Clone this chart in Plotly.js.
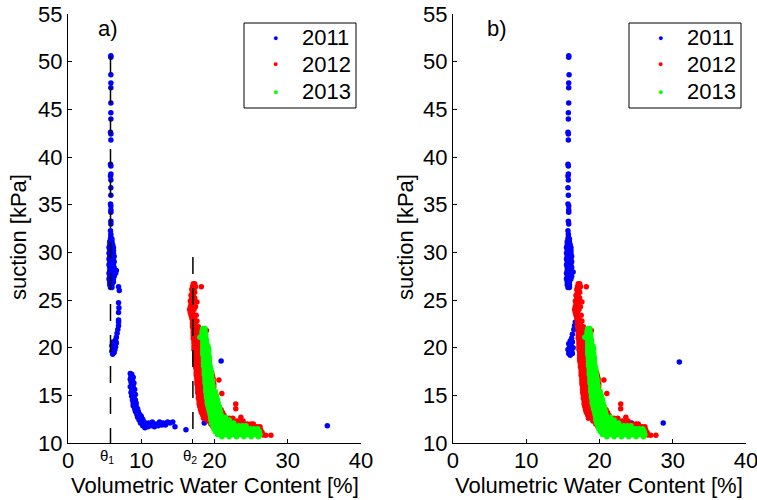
<!DOCTYPE html>
<html>
<head>
<meta charset="utf-8">
<script src="https://cdn.plot.ly/plotly-3.0.1.min.js"></script>
<style>
  html, body { margin: 0; padding: 0; background: #fff; }
  #chart { width: 757px; height: 500px; }
</style>
</head>
<body>
<div id="chart"></div>
<script>
// Suction vs volumetric water content, three seasons of field monitoring.
// Points are [VWC %, suction kPa].

const years = ['2011', '2012', '2013'];
const yearColors = ['rgb(0,0,255)', 'rgb(255,0,0)', 'rgb(0,255,0)'];

// Reference water contents marked on panel a)
const thetaLabels = ['θ<sub>1</sub>', 'θ<sub>2</sub>'];
const thetaValues = [5.8, 17.05];
const thetaTopSuction = [50.6, 29.5];

const xTickVals = [0, 10, 20, 30, 40];
const yTickVals = [10, 15, 20, 25, 30, 35, 40, 45, 50, 55];
const xTitle = 'Volumetric Water Content [%]';
const yTitle = 'suction [kPa]';
const panelLabels = ['a)', 'b)'];

// 2011, panel a) (raw readings)
const pts2011a = [
  [5.85,50.63],[5.85,50.46],[5.85,48.63],[5.85,47.76],[5.85,47.27],[5.85,45.66],[5.85,44.65],[5.85,43.99],
  [5.8,42.59],[5.85,42.41],[5.85,41.78],[5.8,39.24],[5.85,39.06],[5.85,38.22],[5.8,38.01],[5.85,37.59],
  [5.85,36.78],[5.85,35.98],[5.8,35.07],[5.85,34.86],[5.85,34.44],[5.85,34.2],[5.85,33.26],[5.85,32.97],
  [5.8,32.27],[5.85,31.9],[5.85,31.6],
  [5.8,31.4],[6.0,31.4],[5.7,31.1],[6.0,31.1],[5.7,30.8],[6.1,30.8],[5.6,30.5],[5.9,30.5],[6.2,30.5],
  [5.7,30.2],[6.0,30.2],[6.2,30.2],[5.6,29.9],[5.9,29.9],[6.2,29.9],[5.7,29.6],[6.0,29.6],[6.3,29.6],
  [5.6,29.3],[5.9,29.3],[6.2,29.3],[5.7,29.0],[6.0,29.0],[6.3,29.0],[5.6,28.7],[5.9,28.7],[6.2,28.7],
  [5.7,28.4],[6.0,28.4],[6.3,28.4],[5.7,28.1],[6.0,28.1],[6.3,28.1],[6.6,28.1],[5.6,27.8],[5.9,27.8],
  [6.2,27.8],[6.5,27.8],[5.7,27.5],[6.0,27.5],[6.3,27.5],[5.6,27.2],[5.9,27.2],[6.2,27.2],[5.7,26.9],
  [6.0,26.9],[6.2,26.9],[5.7,26.6],[6.0,26.6],[5.8,26.3],[6.0,26.3],
  [6.9,26.4],[7.0,26.0],[6.9,24.7],[6.95,24.2],[6.9,23.7],[6.9,22.9],[6.9,22.7],[6.9,22.3],[6.8,21.9],
  [6.7,21.5],[6.6,21.1],[6.5,20.8],[6.4,20.6],[6.6,20.5],[6.3,20.3],[6.2,20.5],[6.1,20.6],[6.5,20.1],
  [6.0,20.2],[6.2,19.9],[6.4,19.8],[6.0,19.6],[6.3,19.5],[6.1,19.3],
  [8.5,17.3],[8.7,17.2],[8.6,17.0],[8.9,16.9],[8.5,16.7],[8.8,16.6],[8.6,16.4],[9.0,16.3],[8.7,16.1],
  [8.5,15.9],[8.9,15.9],[8.7,15.6],[9.1,15.6],[8.6,15.3],[8.9,15.2],[9.2,15.1],[8.7,14.9],[9.0,14.8],
  [8.8,14.5],[9.2,14.5],[8.9,14.2],[9.3,14.2],[8.9,13.9],[9.3,13.9],[9.1,13.6],[9.5,13.6],[9.2,13.3],
  [9.6,13.3],[9.4,13.0],[9.8,13.0],[9.5,12.7],[10.0,12.8],[9.7,12.4],[10.2,12.5],[9.9,12.1],[10.4,12.2],
  [10.2,11.8],[10.6,11.9],[10.5,11.6],
  [10.9,11.7],[11.0,12.1],[11.3,11.8],[11.5,12.2],[11.8,11.7],[12.0,12.0],[12.3,11.8],[12.5,12.2],
  [12.8,11.9],[13.0,12.1],[13.3,11.9],[13.6,12.2],[13.9,12.1],[14.3,12.2],[14.6,11.7],[16.1,11.4],
  [18.6,12.1],[20.9,18.6],[35.4,11.8]
];

// 2011, panel b) (corrected readings)
const pts2011b = [
  [15.8,50.63],[15.8,50.46],[15.85,48.63],[15.8,47.76],[15.8,47.27],[15.8,45.66],[15.75,44.65],[15.75,43.99],
  [15.7,42.59],[15.75,42.41],[15.75,41.78],[15.7,39.24],[15.75,39.06],[15.75,38.22],[15.7,38.01],[15.75,37.59],
  [15.7,36.78],[15.75,35.98],[15.7,35.07],[15.8,34.86],[15.8,34.44],[15.8,34.2],[15.75,33.26],[15.8,32.97],
  [15.7,32.27],[15.75,31.9],[15.75,31.6],
  [15.7,31.4],[15.9,31.4],[15.6,31.1],[15.9,31.1],[15.6,30.8],[16.0,30.8],[15.5,30.5],[15.8,30.5],[16.1,30.5],
  [15.6,30.2],[15.9,30.2],[16.1,30.2],[15.5,29.9],[15.8,29.9],[16.1,29.9],[15.6,29.6],[15.9,29.6],[16.2,29.6],
  [15.5,29.3],[15.8,29.3],[16.1,29.3],[15.6,29.0],[15.9,29.0],[16.2,29.0],[15.5,28.7],[15.8,28.7],[16.1,28.7],
  [15.6,28.4],[15.9,28.4],[16.2,28.4],[15.6,28.1],[15.9,28.1],[16.4,27.95],[15.5,27.8],[15.8,27.8],
  [16.1,27.8],[15.6,27.5],[15.9,27.5],[16.2,27.5],[15.5,27.2],[15.8,27.2],[16.1,27.2],[15.6,26.9],
  [15.9,26.9],[15.6,26.6],[15.9,26.6],[15.7,26.3],[15.9,26.3],
  [16.7,22.7],[16.6,22.3],[16.5,21.9],[16.3,21.4],[16.2,21.0],[16.0,20.7],[16.3,20.6],[15.8,20.4],
  [16.1,20.3],[15.9,20.0],[16.4,20.0],[15.7,19.8],[16.2,19.6],[15.8,19.4],[16.0,19.2],[16.3,19.4],
  [18.6,17.2],[18.8,16.6],[18.9,16.0],[19.0,15.4],[19.2,14.8],[19.4,14.2],[19.6,13.6],[19.9,13.1],
  [20.3,12.6],[20.8,12.2],[21.3,12.0],[21.8,12.1],[22.3,12.4],[22.9,12.0],[23.4,12.1],[24.0,12.0],
  [24.4,12.1],[24.6,11.8],[26.1,11.4],[28.7,12.1],[30.9,18.5]
];

// 2012 (identical in both panels)
const pts2012 = [
  [17.1,26.7],[17.3,26.7],[17.0,26.4],[17.4,26.4],[16.9,26.1],[17.2,26.1],[17.0,25.8],[17.3,25.8],
  [16.8,25.5],[17.1,25.5],[16.9,25.2],[17.3,25.2],[16.7,24.9],[17.0,24.9],[17.3,24.9],[16.8,24.6],
  [17.1,24.6],[16.7,24.3],[17.0,24.3],[17.4,24.3],[16.6,24.0],[16.9,24.0],[17.2,24.0],[16.7,23.7],
  [17.0,23.7],[16.8,23.4],[17.1,23.4],[17.5,23.4],[16.9,23.1],[17.2,23.1],[17.0,22.8],[17.3,22.8],
  [17.6,22.8],[17.0,22.5],[17.4,22.5],
  [17.0,22.2],[17.4,22.2],[17.8,22.2],[17.1,21.9],[17.5,21.9],[17.9,21.9],[17.1,21.6],[17.5,21.6],
  [17.9,21.6],[17.1,21.3],[17.5,21.3],[18.0,21.3],[17.1,21.0],[17.5,21.0],[18.0,21.0],[17.2,20.7],
  [17.6,20.7],[18.0,20.7],[17.2,20.4],[17.6,20.4],[18.1,20.4],[17.2,20.1],[17.6,20.1],[18.1,20.1],
  [17.2,19.8],[17.7,19.8],[18.2,19.8],[17.3,19.5],[17.7,19.5],[18.2,19.5],[17.3,19.2],[17.7,19.2],
  [18.2,19.2],[17.3,18.9],[17.8,18.9],[18.3,18.9],[17.3,18.6],[17.8,18.6],[18.3,18.6],[17.4,18.3],
  [17.8,18.3],[18.3,18.3],[17.4,18.0],[17.9,18.0],[18.4,18.0],[17.5,17.7],[17.9,17.7],[18.4,17.7],
  [17.5,17.4],[18.0,17.4],[18.4,17.4],[19.6,17.4],[17.5,17.1],[18.0,17.1],[18.5,17.1],[19.7,17.1],
  [17.6,16.8],[18.0,16.8],[18.5,16.8],[19.8,16.8],[17.6,16.5],[18.1,16.5],[18.6,16.5],[19.8,16.5],
  [17.6,16.2],[18.1,16.2],[18.6,16.2],[19.9,16.2],[17.7,15.9],[18.2,15.9],[18.7,15.9],[19.9,15.9],
  [17.7,15.6],[18.2,15.6],[18.7,15.6],[17.7,15.3],[18.2,15.3],[18.7,15.3],[17.8,15.0],[18.3,15.0],
  [18.8,15.0],[17.8,14.7],[18.3,14.7],[18.8,14.7],[17.9,14.4],[18.4,14.4],[18.9,14.4],[17.9,14.1],
  [18.4,14.1],[18.9,14.1],[18.0,13.8],[18.5,13.8],[19.0,13.8],[20.6,13.8],[18.1,13.5],[18.6,13.5],
  [19.1,13.5],[20.9,13.5],[18.2,13.2],[18.7,13.2],[19.2,13.2],[21.1,13.2],[18.4,12.9],[18.9,12.9],
  [19.4,12.9],[20.8,12.9],[21.3,12.9],[18.5,12.6],[19.0,12.6],[19.5,12.6],[21.0,12.6],[21.5,12.6],
  [22.0,12.6],[22.5,12.6],
  [19.1,12.3],[19.6,12.3],[20.1,12.3],[20.6,12.3],[21.1,12.3],[21.6,12.3],[22.1,12.3],[22.6,12.3],
  [23.1,12.3],[23.6,12.3],[23.9,12.3],[19.5,12.0],[20.0,12.0],[20.5,12.0],[21.0,12.0],[21.5,12.0],
  [22.0,12.0],[22.5,12.0],[23.0,12.0],[23.5,12.0],[24.0,12.0],[24.5,12.0],[25.0,12.0],[25.3,12.0],
  [19.8,11.7],[20.3,11.7],[20.8,11.7],[21.3,11.7],[21.8,11.7],[22.3,11.7],[22.8,11.7],[23.3,11.7],
  [23.8,11.7],[24.3,11.7],[24.8,11.7],[25.3,11.7],[25.8,11.7],[26.2,11.7],[20.3,11.4],[20.8,11.4],
  [21.3,11.4],[21.8,11.4],[22.3,11.4],[22.8,11.4],[23.3,11.4],[23.8,11.4],[24.3,11.4],[24.8,11.4],
  [25.3,11.4],[25.8,11.4],[26.3,11.4],[21.0,11.1],[21.5,11.1],[22.0,11.1],[22.5,11.1],[23.0,11.1],
  [23.5,11.1],[24.0,11.1],[24.5,11.1],[25.0,11.1],[25.5,11.1],[26.0,11.1],[26.5,11.1],[23.0,10.85],
  [24.0,10.85],[25.0,10.85],[26.0,10.85],[26.6,10.85],
  [18.2,26.4],[18.9,21.8],[17.6,24.8],[20.6,16.6],[21.0,15.2],[22.9,14.1],[22.9,13.6],[23.6,12.7],
  [27.0,10.8],[27.7,10.8]
];

// 2013 (identical in both panels)
const pts2013 = [
  [18.4,22.0],[18.7,22.0],[18.3,21.7],[18.7,21.7],[18.3,21.4],[18.8,21.4],[18.4,21.1],[18.8,21.1],
  [18.4,20.8],[18.9,20.8],[18.4,20.5],[18.9,20.5],[18.4,20.2],[18.9,20.2],[19.1,20.2],[18.4,19.9],
  [18.8,19.9],[19.2,19.9],[18.4,19.6],[18.8,19.6],[19.2,19.6],[18.4,19.3],[18.8,19.3],[19.2,19.3],
  [18.5,19.0],[18.9,19.0],[19.3,19.0],[18.5,18.7],[18.9,18.7],[19.3,18.7],[18.5,18.4],[18.9,18.4],
  [19.3,18.4],[18.5,18.1],[19.0,18.1],[19.4,18.1],[18.6,17.8],[19.0,17.8],[19.5,17.8],[18.6,17.5],
  [19.0,17.5],[19.5,17.5],[18.6,17.2],[19.1,17.2],[19.6,17.2],[18.7,16.9],[19.1,16.9],[19.6,16.9],
  [18.7,16.6],[19.2,16.6],[19.7,16.6],[18.7,16.3],[19.2,16.3],[19.7,16.3],[18.8,16.0],[19.3,16.0],
  [19.8,16.0],[18.8,15.7],[19.3,15.7],[19.8,15.7],[18.8,15.4],[19.3,15.4],[19.8,15.4],[20.1,15.4],
  [18.9,15.1],[19.4,15.1],[19.9,15.1],[20.2,15.1],[18.9,14.8],[19.4,14.8],[19.9,14.8],[20.3,14.8],
  [19.0,14.5],[19.5,14.5],[20.0,14.5],[20.4,14.5],[19.0,14.2],[19.5,14.2],[20.0,14.2],[20.5,14.2],
  [19.1,13.9],[19.6,13.9],[20.1,13.9],[20.6,13.9],[19.2,13.6],[19.7,13.6],[20.2,13.6],[20.7,13.6],
  [19.3,13.3],[19.8,13.3],[20.3,13.3],[20.8,13.3],[19.4,13.0],[19.9,13.0],[20.4,13.0],[20.9,13.0],
  [19.5,12.7],[20.0,12.7],[20.5,12.7],[21.0,12.7],[21.5,12.7],[19.5,12.4],[20.0,12.4],[20.5,12.4],
  [21.0,12.4],[21.5,12.4],[22.0,12.4],[19.6,12.1],[20.1,12.1],[20.6,12.1],[21.1,12.1],[21.6,12.1],
  [22.1,12.1],[22.6,12.1],[19.8,11.8],[20.3,11.8],[20.8,11.8],[21.3,11.8],[21.8,11.8],[22.3,11.8],
  [22.8,11.8],[23.3,11.8],[23.8,11.8],[24.3,11.8],[19.9,11.5],[20.4,11.5],[20.9,11.5],[21.4,11.5],
  [21.9,11.5],[22.4,11.5],[22.9,11.5],[23.4,11.5],[23.9,11.5],[24.4,11.5],[24.9,11.5],[25.4,11.5],
  [25.9,11.5],[20.1,11.2],[20.6,11.2],[21.1,11.2],[21.6,11.2],[22.1,11.2],[22.6,11.2],[23.1,11.2],
  [23.6,11.2],[24.1,11.2],[24.6,11.2],[25.1,11.2],[25.6,11.2],[26.1,11.2],[20.4,10.9],[20.9,10.9],
  [21.4,10.9],[21.9,10.9],[22.4,10.9],[22.9,10.9],[23.4,10.9],[23.9,10.9],[24.4,10.9],[24.9,10.9],
  [25.4,10.9],[25.9,10.9],[26.2,10.9],[21.0,10.65],[22.0,10.65],[23.0,10.65],[24.0,10.65],
  [25.0,10.65],[26.0,10.65],
  [18.0,21.1]
];

const FONT = 'Arial, "Liberation Sans", Helvetica, sans-serif';

// Figure geometry in pixels
const W = 757, H = 500;
const M = { l: 68, r: 11, t: 14, b: 57 };
const plotW = W - M.l - M.r, plotH = H - M.t - M.b;
const px2paperX = px => (px - M.l) / plotW;
const px2paperY = py => (H - M.b - py) / plotH;

function scatter(points, yearIdx, xa, ya) {
  return {
    type: 'scatter',
    mode: 'markers',
    name: years[yearIdx],
    x: points.map(p => p[0]),
    y: points.map(p => p[1]),
    xaxis: xa,
    yaxis: ya,
    showlegend: false,
    marker: { color: yearColors[yearIdx], size: 5.5, line: { width: 0 } },
    hoverinfo: 'skip'
  };
}

const traces = [
  scatter(pts2011a, 0, 'x', 'y'),
  scatter(pts2012, 1, 'x', 'y'),
  scatter(pts2013, 2, 'x', 'y'),
  scatter(pts2011b, 0, 'x2', 'y2'),
  scatter(pts2012, 1, 'x2', 'y2'),
  scatter(pts2013, 2, 'x2', 'y2')
];

const axisStyle = {
  showline: true,
  linecolor: '#000',
  linewidth: 1,
  ticks: 'inside',
  ticklen: 4,
  tickwidth: 1,
  tickcolor: '#000',
  showgrid: false,
  zeroline: false,
  mirror: false,
  fixedrange: true,
  ticklabeloverflow: 'allow',
  tickfont: { family: FONT, size: 22, color: '#000' }
};

function xAxis(domain, anchor, withTheta) {
  const ax = Object.assign({}, axisStyle, {
    domain: domain,
    anchor: anchor,
    range: [0, 40],
    tickmode: 'array',
    tickvals: xTickVals,
    ticktext: xTickVals.map(String),
    ticklabelstandoff: -2
  });
  if (withTheta) {
    ax.minor = { tickmode: 'array', tickvals: thetaValues, ticks: 'inside', ticklen: 4, tickwidth: 1, tickcolor: '#000', showgrid: false };
  }
  return ax;
}

function yAxis(anchor) {
  return Object.assign({}, axisStyle, {
    anchor: anchor,
    domain: [0, 1],
    range: [10, 55],
    tickmode: 'array',
    tickvals: yTickVals,
    ticktext: yTickVals.map(String)
  });
}

const xDomains = [[0, 0.4322], [0.5678, 1]];

// Legend boxes (one per panel): frame, coloured dot and year label per row
const legendFrames = [
  { left: 244, right: 356 },
  { left: 629, right: 741 }
];
const legendTop = 23, legendBottom = 108;
const legendRowY = [37.7, 64.3, 91.7];

const shapes = thetaValues.map((t, i) => ({
  type: 'line', xref: 'x', yref: 'y',
  x0: t, x1: t, y0: thetaTopSuction[i], y1: 10,
  line: { color: '#000', width: 1.5, dash: '17px,14px' },
  layer: 'above'
}));

const titleFont = { family: FONT, size: 22, color: '#000' };
const annotations = [
  { text: panelLabels[0], xref: 'x', yref: 'y', x: 5.5, y: 53.5, showarrow: false, font: titleFont },
  { text: panelLabels[1], xref: 'x2', yref: 'y2', x: 6.0, y: 53.5, showarrow: false, font: titleFont }
].concat(thetaValues.map((t, i) => ({
  text: thetaLabels[i], xref: 'x', yref: 'paper', x: t, y: 0,
  xanchor: 'center', yanchor: 'top', yshift: -2, xshift: -3, showarrow: false,
  font: { family: FONT, size: 15, color: '#000' }
})));

// Axis titles for both panels
xDomains.forEach((d, i) => {
  annotations.push({
    text: xTitle, xref: 'paper', yref: 'paper',
    x: (d[0] + d[1]) / 2, y: px2paperY(485),
    xanchor: 'center', yanchor: 'middle', showarrow: false, font: titleFont
  });
  annotations.push({
    text: yTitle, xref: 'paper', yref: 'paper', textangle: -90,
    x: px2paperX(i === 0 ? 18 : 405), y: px2paperY(237),
    xanchor: 'center', yanchor: 'middle', showarrow: false, font: titleFont
  });
});

legendFrames.forEach(f => {
  shapes.push({
    type: 'rect', xref: 'paper', yref: 'paper',
    x0: px2paperX(f.left), x1: px2paperX(f.right),
    y0: px2paperY(legendBottom), y1: px2paperY(legendTop),
    line: { color: '#000', width: 1 }, fillcolor: '#fff', layer: 'above'
  });
  years.forEach((yr, i) => {
    annotations.push({
      text: '●', xref: 'paper', yref: 'paper',
      x: px2paperX(f.left + 31), y: px2paperY(legendRowY[i]),
      xanchor: 'center', yanchor: 'middle', showarrow: false,
      font: { family: FONT, size: 9, color: yearColors[i] }
    });
    annotations.push({
      text: yr, xref: 'paper', yref: 'paper',
      x: px2paperX(f.left + 56), y: px2paperY(legendRowY[i]),
      xanchor: 'left', yanchor: 'middle', showarrow: false,
      font: titleFont
    });
  });
});

const layout = {
  width: W,
  height: H,
  margin: M,
  paper_bgcolor: '#fff',
  plot_bgcolor: '#fff',
  font: { family: FONT, size: 22, color: '#000' },
  showlegend: false,
  xaxis: xAxis(xDomains[0], 'y', true),
  yaxis: yAxis('x'),
  xaxis2: xAxis(xDomains[1], 'y2', false),
  yaxis2: yAxis('x2'),
  shapes: shapes,
  annotations: annotations
};

Plotly.newPlot('chart', traces, layout, { staticPlot: true, displayModeBar: false });
</script>
</body>
</html>
